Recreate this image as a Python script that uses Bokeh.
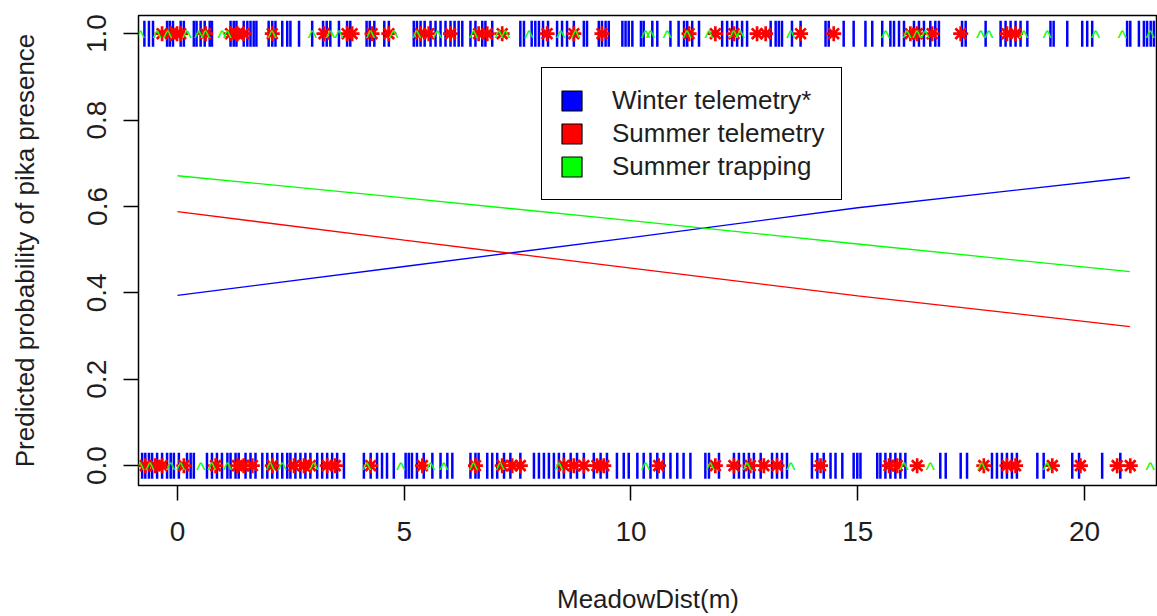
import numpy as np
from bokeh.plotting import figure
from bokeh.models import Range1d, FixedTicker, NumeralTickFormatter, Legend, LegendItem
from bokeh.core.properties import value
from bokeh.embed import file_html
from bokeh.resources import INLINE

# ---------------- data ----------------
series_labels = ["Winter telemetry*", "Summer telemetry", "Summer trapping"]
series_colors = ["#0000ff", "#ff0000", "#00ff00"]

# fitted curves (predicted probability vs MeadowDist)
x_curve = [0, 5, 10, 15, 21]
winter_curve = [0.394, 0.461, 0.528, 0.597, 0.667]
summer_tel_curve = [0.588, 0.522, 0.457, 0.393, 0.322]
trapping_curve = [0.671, 0.620, 0.567, 0.513, 0.449]

# observations (rug) : presence (1) and absence (0)
winter_present = [-0.73, -0.63, -0.54, -0.23, -0.17, -0.10, 0.07, 0.14, 0.36, 0.42, 0.51, 0.60, 0.71, 0.76,
                  1.17, 1.24, 1.30, 1.46, 1.54, 1.61, 1.68, 1.74, 2.01, 2.09, 2.16, 2.31, 2.42, 2.49, 2.68,
                  2.97, 3.21, 3.29, 3.37, 3.56, 3.74, 3.81, 4.17, 4.24, 4.34, 4.56, 4.66, 5.21, 5.28, 5.36,
                  5.45, 5.58, 5.69, 5.80, 5.91, 6.02, 6.11, 6.20, 6.28, 6.46, 6.57, 6.72, 6.79, 6.94, 7.56,
                  7.64, 7.81, 7.89, 7.97, 8.06, 8.17, 8.37, 8.48, 8.59, 8.74, 8.96, 9.03, 9.29, 9.36, 9.44,
                  9.51, 9.81, 9.88, 9.95, 10.03, 10.22, 10.28, 10.47, 10.58, 10.87, 11.05, 11.17, 11.24,
                  11.35, 11.50, 12.01, 12.12, 12.23, 12.34, 12.45, 12.56, 13.08, 13.19, 13.26, 13.33, 13.55,
                  13.74, 14.29, 14.36, 14.69, 14.91, 15.17, 15.32, 15.54, 15.72, 15.80, 15.91, 16.02, 16.24,
                  16.35, 16.46, 16.60, 16.71, 16.79, 17.30, 17.38, 17.82, 18.15, 18.26, 18.37, 18.48, 18.59,
                  18.74, 19.25, 19.32, 19.62, 19.95, 20.06, 20.17, 20.94, 21.01, 21.20, 21.31, 21.38, 21.46,
                  21.53]
winter_absent = [-0.78, -0.71, -0.63, -0.56, -0.45, -0.34, -0.23, -0.15, -0.08, 0.03, 0.21, 0.29, 0.36, 0.65,
                 0.76, 0.87, 0.98, 1.10, 1.17, 1.28, 1.35, 1.50, 1.61, 1.72, 1.87, 1.98, 2.09, 2.20, 2.31,
                 2.42, 2.49, 2.60, 2.71, 2.82, 2.93, 3.08, 3.19, 3.30, 3.41, 3.52, 3.67, 4.11, 4.26, 4.40,
                 4.51, 4.62, 4.77, 5.03, 5.10, 5.17, 5.28, 5.43, 5.62, 5.80, 5.95, 6.06, 6.46, 6.57, 6.64,
                 6.83, 6.94, 7.05, 7.20, 7.34, 7.56, 7.86, 7.97, 8.08, 8.19, 8.30, 8.41, 8.52, 8.67, 8.81,
                 8.96, 9.18, 9.33, 9.47, 9.69, 9.84, 9.95, 10.14, 10.28, 10.43, 10.58, 10.72, 10.87, 11.02,
                 11.16, 11.31, 11.64, 11.72, 11.94, 12.27, 12.38, 12.49, 12.60, 12.71, 12.86, 13.11, 13.22,
                 13.33, 13.44, 13.99, 14.11, 14.25, 14.40, 14.51, 14.66, 14.91, 14.99, 15.06, 15.43, 15.50,
                 15.61, 15.72, 15.83, 15.94, 16.05, 16.82, 16.94, 17.27, 17.41, 17.96, 18.07, 18.18, 18.29,
                 18.40, 18.51, 18.96, 19.10, 19.73, 19.88, 20.39, 20.79]

summer_present = [-0.34, -0.15, -0.01, 0.07, 0.62, 1.17, 1.32, 1.46, 2.09, 3.23, 3.74, 3.85, 4.29, 4.66,
                  5.36, 5.54, 6.02, 6.64, 6.83, 7.16, 8.15, 8.74, 9.36, 11.28, 11.86, 12.27, 12.78, 12.97,
                  13.74, 14.47, 16.16, 16.31, 16.64, 17.27, 18.29, 18.48]
summer_absent = [-0.71, -0.49, -0.34, 0.14, 0.84, 1.32, 1.46, 1.65, 2.09, 2.57, 2.79, 2.93, 3.30, 3.48,
                 4.26, 5.40, 6.57, 7.16, 7.38, 7.56, 8.52, 8.74, 8.96, 9.25, 9.40, 10.61, 11.86, 12.27,
                 12.63, 12.93, 13.22, 14.18, 15.69, 15.87, 16.31, 17.78, 18.29, 18.48, 19.29, 19.91,
                 20.72, 21.01]

trap_present = [-0.82, -0.45, -0.21, 0.21, 0.47, 0.62, 0.98, 1.10, 2.09, 2.97, 3.37, 3.56, 4.26, 4.77,
                5.28, 5.73, 6.53, 7.09, 7.23, 7.75, 8.45, 8.78, 10.32, 10.43, 10.80, 11.24, 11.72, 12.27,
                12.41, 13.52, 15.61, 16.09, 16.31, 16.49, 17.71, 17.89, 18.66, 19.18, 20.24, 20.83, 21.45]
trap_absent = [-0.82, -0.60, -0.15, 0.07, 0.51, 0.76, 1.10, 2.05, 2.31, 3.01, 4.18, 4.92, 5.58, 5.87,
               6.53, 7.12, 8.41, 10.32, 11.75, 12.56, 13.52, 16.02, 16.60, 17.74, 19.18, 21.45]

x_ticks = [0, 5, 10, 15, 20]
y_ticks = [0.0, 0.2, 0.4, 0.6, 0.8, 1.0]

FONT = "Liberation Sans"
TXT = "#1e1e1e"

# ---------------- figure ----------------
p = figure(width=1157, height=616,
           x_range=Range1d(-0.86, 21.61), y_range=Range1d(-0.046, 1.042),
           output_backend="svg", toolbar_location=None,
           min_border_left=138, min_border_right=0, min_border_top=15, min_border_bottom=131,
           background_fill_color="white", border_fill_color="white")
p.xgrid.visible = False
p.ygrid.visible = False
p.outline_line_color = "black"
p.outline_line_width = 1.5

# curves
for yv, c in zip([winter_curve, summer_tel_curve, trapping_curve], series_colors):
    p.line(x_curve, yv, line_color=c, line_width=1.3)

# rugs
for xs, yv in [(winter_present, 1), (winter_absent, 0)]:
    p.scatter(xs, [yv] * len(xs), marker="dash", angle=np.pi / 2, size=26,
              line_color=series_colors[0], line_width=2.5)
for xs, yv in [(summer_present, 1), (summer_absent, 0)]:
    p.scatter(xs, [yv] * len(xs), marker="asterisk", size=15,
              line_color=series_colors[1], line_width=2.7)
for xs, yv in [(trap_present, 1), (trap_absent, 0)]:
    p.text(xs, [yv] * len(xs), text=["^"] * len(xs), text_color=series_colors[2],
           text_font=value(FONT), text_font_size="20px", text_align="center",
           text_baseline="alphabetic", y_offset=4)

# axes
for ax, ticks in [(p.xaxis, x_ticks), (p.yaxis, y_ticks)]:
    ax.ticker = FixedTicker(ticks=ticks)
    ax.minor_tick_line_color = None
    ax.major_tick_in = 0
    ax.major_tick_out = 15
    ax.major_tick_line_color = "black"
    ax.major_tick_line_width = 1.5
    ax.axis_line_color = None
    ax.major_label_text_font = FONT
    ax.major_label_text_font_size = "28px"
    ax.major_label_text_color = TXT
    ax.axis_label_text_font = FONT
    ax.axis_label_text_font_size = "26px"
    ax.axis_label_text_font_style = "normal"
    ax.axis_label_text_color = TXT

p.yaxis.formatter = NumeralTickFormatter(format="0.0")
p.yaxis.major_label_orientation = "vertical"
p.xaxis.axis_label = "MeadowDist(m)"
p.yaxis.axis_label = "Predicted probability of pika presence"
p.xaxis.major_label_standoff = 21
p.xaxis.axis_label_standoff = 40
p.yaxis.major_label_standoff = 17
p.yaxis.axis_label_standoff = 45

# legend (filled squares)
items = []
for lbl, c in zip(series_labels, series_colors):
    r = p.quad(left=[np.nan], right=[np.nan], top=[np.nan], bottom=[np.nan],
               fill_color=c, line_color="black", line_width=1.2)
    items.append(LegendItem(label=lbl, renderers=[r]))
legend = Legend(items=items, location=(403, 285), glyph_width=25, glyph_height=25,
                label_standoff=28, padding=17, spacing=2, label_height=22,
                label_text_font=FONT, label_text_font_size="26px", label_text_color=TXT,
                border_line_color="black", border_line_width=1.5, border_line_alpha=1.0,
                background_fill_color="white", background_fill_alpha=1.0)
p.add_layout(legend)

open("out.html", "w").write(file_html(p, INLINE))
